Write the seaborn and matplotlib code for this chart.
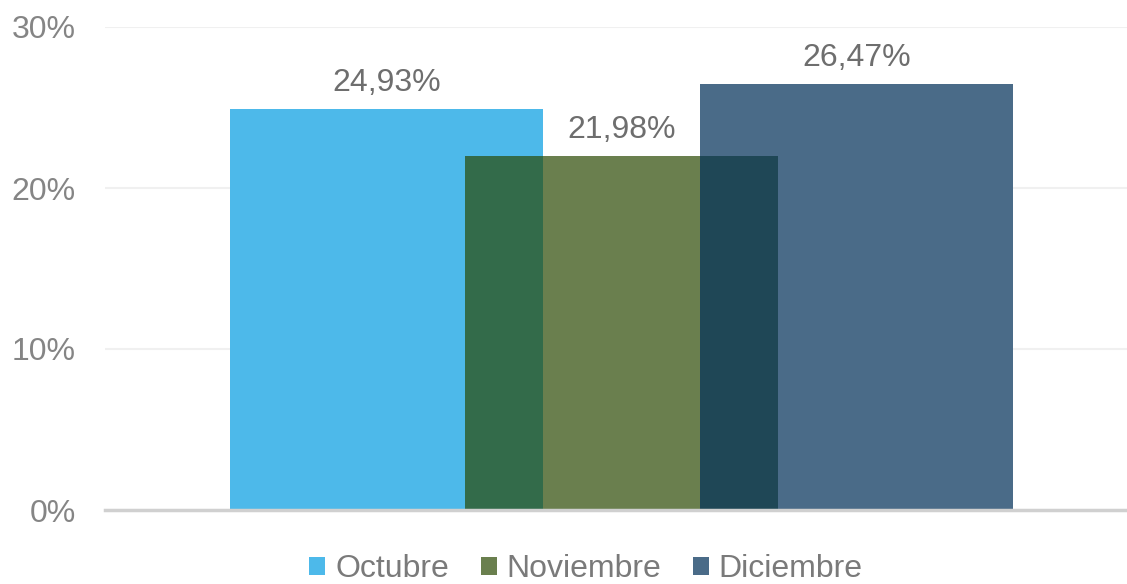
import matplotlib
matplotlib.use("Agg")
import matplotlib.pyplot as plt
import seaborn as sns
import pandas as pd
from matplotlib.patches import Patch

meses = ["Octubre", "Noviembre", "Diciembre"]
valores = [0.2493, 0.2198, 0.2647]
etiquetas = ["24,93%", "21,98%", "26,47%"]
colores = ["#4DB9EA", "#6A7F4E", "#4A6B88"]
colores_solape = ["#336B4A", "#1F4756"]
yticks = [0, 0.1, 0.2, 0.3]
ytick_labels = ["0%", "10%", "20%", "30%"]

sns.set_theme(style="white")
plt.rcParams["font.family"] = ["Liberation Sans", "DejaVu Sans"]

df = pd.DataFrame({"mes": meses, "valor": valores})

fig = plt.figure(figsize=(11.27, 5.84), dpi=100)
ax = fig.add_axes([105 / 1127, 1 - 510 / 584, 1 - 105 / 1127, (510 - 27) / 584])

sns.barplot(data=df, x="mes", y="valor", hue="mes", order=meses, hue_order=meses,
            palette=colores, width=1.332, saturation=1, legend=False, ax=ax,
            linewidth=0, edgecolor="none")

patches = sorted(ax.patches, key=lambda p: p.get_x())
for i in range(len(patches) - 1):
    p1, p2 = patches[i], patches[i + 1]
    x0 = p2.get_x()
    x1 = p1.get_x() + p1.get_width()
    h = min(p1.get_height(), p2.get_height())
    if x1 > x0:
        ax.bar(x0, h, width=x1 - x0, align="edge", color=colores_solape[i],
               linewidth=0, zorder=3)

for p, lab in zip(patches, etiquetas):
    ax.annotate(lab, (p.get_x() + p.get_width() / 2, p.get_height()),
                xytext=(0, 8), textcoords="offset points", ha="center", va="bottom",
                fontsize=23, color="#6E6E6E")

ax.set_xlim(-1.198, 3.151)
ax.set_ylim(0, 0.30)
ax.set_yticks(yticks)
ax.set_yticklabels(ytick_labels, fontsize=23, color="#858585")
ax.tick_params(axis="y", length=0, pad=21)
ax.set_xticks([])
ax.set_xlabel("")
ax.set_ylabel("")
ax.yaxis.grid(True, color="#F0F0F0", linewidth=1.5)
ax.set_axisbelow(True)
for s in ["top", "right", "left"]:
    ax.spines[s].set_visible(False)
ax.spines["bottom"].set_color("#D0D0D0")
ax.spines["bottom"].set_linewidth(2.5)
ax.spines["bottom"].set_zorder(5)

handles = [Patch(facecolor=c, edgecolor="none", label=m) for c, m in zip(colores, meses)]
leg = fig.legend(handles=handles, loc="center", bbox_to_anchor=(586 / 1127, 1 - 569 / 584),
                 ncol=3, frameon=False, fontsize=23, handlelength=0.5, handleheight=0.5,
                 handletextpad=0.3, columnspacing=1.0, labelcolor="#7A7A7A",
                 borderpad=0, borderaxespad=0)

fig.savefig("out.png", dpi=100)
